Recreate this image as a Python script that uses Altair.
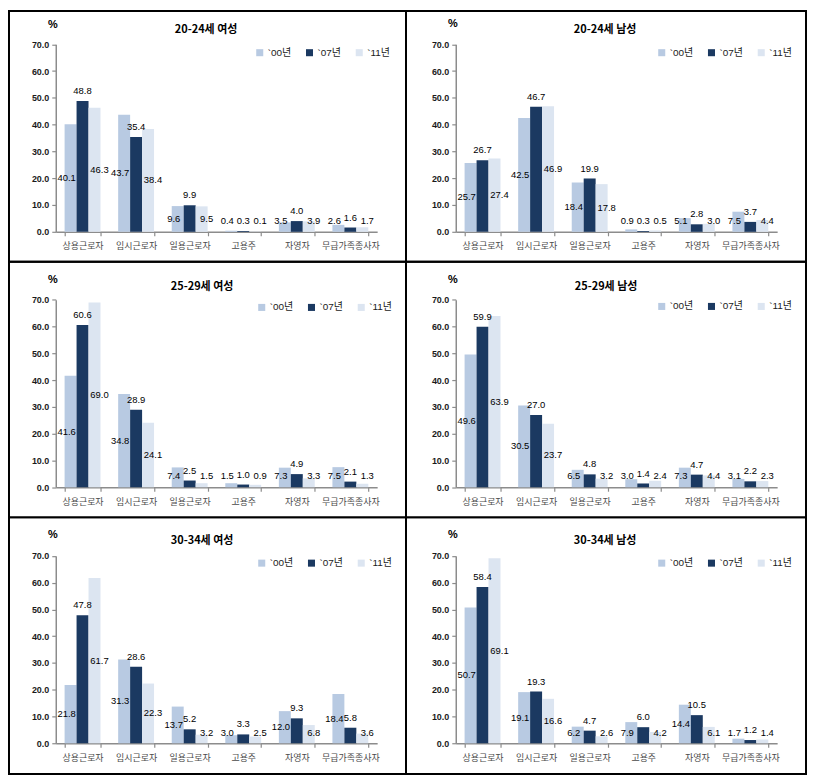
import altair as alt
import pandas as pd

categories = ["상용근로자", "임시근로자", "일용근로자", "고용주", "자영자", "무급가족종사자"]
series = ["`00년", "`07년", "`11년"]
colors = ["#B8CAE2", "#1B3961", "#DCE5F1"]
titles = ["20-24세 여성", "20-24세 남성", "25-29세 여성", "25-29세 남성", "30-34세 여성", "30-34세 남성"]

# values per panel: `00, `07, `11
f2024_00 = [40.1, 43.7, 9.6, 0.4, 3.5, 2.6]
f2024_07 = [48.8, 35.4, 9.9, 0.3, 4.0, 1.6]
f2024_11 = [46.3, 38.4, 9.5, 0.1, 3.9, 1.7]
m2024_00 = [25.7, 42.5, 18.4, 0.9, 5.1, 7.5]
m2024_07 = [26.7, 46.7, 19.9, 0.3, 2.8, 3.7]
m2024_11 = [27.4, 46.9, 17.8, 0.5, 3.0, 4.4]
f2529_00 = [41.6, 34.8, 7.4, 1.5, 7.3, 7.5]
f2529_07 = [60.6, 28.9, 2.5, 1.0, 4.9, 2.1]
f2529_11 = [69.0, 24.1, 1.5, 0.9, 3.3, 1.3]
m2529_00 = [49.6, 30.5, 6.5, 3.0, 7.3, 3.1]
m2529_07 = [59.9, 27.0, 4.8, 1.4, 4.7, 2.2]
m2529_11 = [63.9, 23.7, 3.2, 2.4, 4.4, 2.3]
f3034_00 = [21.8, 31.3, 13.7, 3.0, 12.0, 18.4]
f3034_07 = [47.8, 28.6, 5.2, 3.3, 9.3, 5.8]
f3034_11 = [61.7, 22.3, 3.2, 2.5, 6.8, 3.6]
m3034_00 = [50.7, 19.1, 6.2, 7.9, 14.4, 1.7]
m3034_07 = [58.4, 19.3, 4.7, 6.0, 10.5, 1.2]
m3034_11 = [69.1, 16.6, 2.6, 4.2, 6.1, 1.4]

panel_values = [
    (f2024_00, f2024_07, f2024_11),
    (m2024_00, m2024_07, m2024_11),
    (f2529_00, f2529_07, f2529_11),
    (m2529_00, m2529_07, m2529_11),
    (f3034_00, f3034_07, f3034_11),
    (m3034_00, m3034_07, m3034_11),
]
y_ticks = [0, 10, 20, 30, 40, 50, 60, 70]

# layout (pixels)
widths = [399, 402]
heights = [252, 257, 258]
xranges = [(47, 370), (50, 373)]
yranges = [(222, 33.5), (226.7, 38.3), (227, 38.7)]
title_pos = [(198, 19), (200, 19.5), (194, 25), (201, 25), (194, 24), (200, 24)]
pct_pos = [(44, 14), (47, 13), (44, 18), (47, 18), (44, 18), (47, 18)]
legend_pos = [(247, 37), (252, 37), (249, 41), (252, 40), (249, 41), (252, 41)]

KFONT = "Noto Sans CJK KR"
NFONT = "Liberation Sans"
MIXFONT = "Liberation Sans, Noto Sans CJK KR"


def panel(i):
    r, c = divmod(i, 2)
    W, H = widths[c], heights[r]
    x0, x1 = xranges[c]
    yb, yt = yranges[r]
    vals = panel_values[i]
    df = pd.DataFrame({
        "cat": categories * 3,
        "series": [s for s in series for _ in categories],
        "value": list(vals[0]) + list(vals[1]) + list(vals[2]),
    })

    xscale = alt.Scale(domain=categories, range=[x0, x1], paddingInner=0.33, paddingOuter=0.165)
    xaxis = alt.Axis(
        title=None, labelAngle=0, tickBand="extent", offset=-(H - yb),
        domainColor="#8C8C8C", domainWidth=1.5, tickColor="#8C8C8C", tickWidth=1.2,
        tickSize=4, labelPadding=6, labelFont=KFONT, labelFontSize=9,
        labelColor="#4A4A4A", grid=False,
    )
    yscale = alt.Scale(domain=[0, 70], range=[yb, yt], nice=False)
    yaxis = alt.Axis(
        title=None, values=y_ticks, format=".1f", offset=-x0,
        domainColor="#8C8C8C", domainWidth=1.5, tickColor="#8C8C8C", tickWidth=1.2,
        tickSize=4, labelPadding=3, labelFont=NFONT, labelFontSize=9,
        labelFontWeight="bold", labelColor="#1A1A1A", grid=False,
    )
    X = alt.X("cat:N", sort=categories, scale=xscale, axis=xaxis)
    XO = alt.XOffset("series:N", sort=series, scale=alt.Scale(domain=series, paddingInner=0))

    lx, ly = legend_pos[i]
    bars = alt.Chart(df).mark_bar().encode(
        x=X, xOffset=XO,
        y=alt.Y("value:Q", scale=yscale, axis=yaxis),
        color=alt.Color(
            "series:N", sort=series,
            scale=alt.Scale(domain=series, range=colors),
            legend=alt.Legend(
                orient="none", legendX=lx, legendY=ly, direction="horizontal",
                title=None, symbolType="square", symbolSize=50, symbolStrokeWidth=0,
                labelFont=MIXFONT, labelFontSize=10, labelColor="#1A1A1A",
                labelOffset=3, columnPadding=13,
            ),
        ),
    )

    lbl_common = dict(font=NFONT, fontSize=9.5, color="#000000")
    lab00 = alt.Chart(df).transform_filter(
        alt.datum.series == series[0]
    ).transform_calculate(
        ypos="max(datum.value / 2, 4)"
    ).mark_text(dx=-4, **lbl_common).encode(
        x=X, xOffset=XO,
        y=alt.Y("ypos:Q", scale=yscale, axis=yaxis),
        text=alt.Text("value:Q", format=".1f"),
    )
    lab07 = alt.Chart(df).transform_filter(
        alt.datum.series == series[1]
    ).mark_text(dy=-10, **lbl_common).encode(
        x=X, xOffset=XO,
        y=alt.Y("value:Q", scale=yscale, axis=yaxis),
        text=alt.Text("value:Q", format=".1f"),
    )
    lab11 = alt.Chart(df).transform_filter(
        alt.datum.series == series[2]
    ).transform_calculate(
        ypos="max(datum.value / 2, 4)"
    ).mark_text(dx=5, **lbl_common).encode(
        x=X, xOffset=XO,
        y=alt.Y("ypos:Q", scale=yscale, axis=yaxis),
        text=alt.Text("value:Q", format=".1f"),
    )

    tx, ty = title_pos[i]
    ttl = alt.Chart(pd.DataFrame({"t": [titles[i]]})).mark_text(
        font=KFONT, fontSize=11, fontWeight="bold", color="#000000"
    ).encode(x=alt.value(tx), y=alt.value(ty), text="t:N")
    px, py = pct_pos[i]
    pct = alt.Chart(pd.DataFrame({"t": ["%"]})).mark_text(
        font=NFONT, fontSize=11, fontWeight="bold", color="#000000"
    ).encode(x=alt.value(px), y=alt.value(py), text="t:N")

    return alt.layer(bars, lab00, lab07, lab11, ttl, pct).properties(width=W, height=H)


chart = alt.concat(
    *[panel(i) for i in range(6)], columns=2, spacing=0, bounds="flush"
).resolve_scale(
    x="independent", y="independent", color="independent", xOffset="independent"
).resolve_legend(color="independent").properties(
    padding=0, background="white"
).configure_view(stroke="black", strokeWidth=2)

chart.save("out.html", embed_options={"renderer": "svg", "actions": False})
